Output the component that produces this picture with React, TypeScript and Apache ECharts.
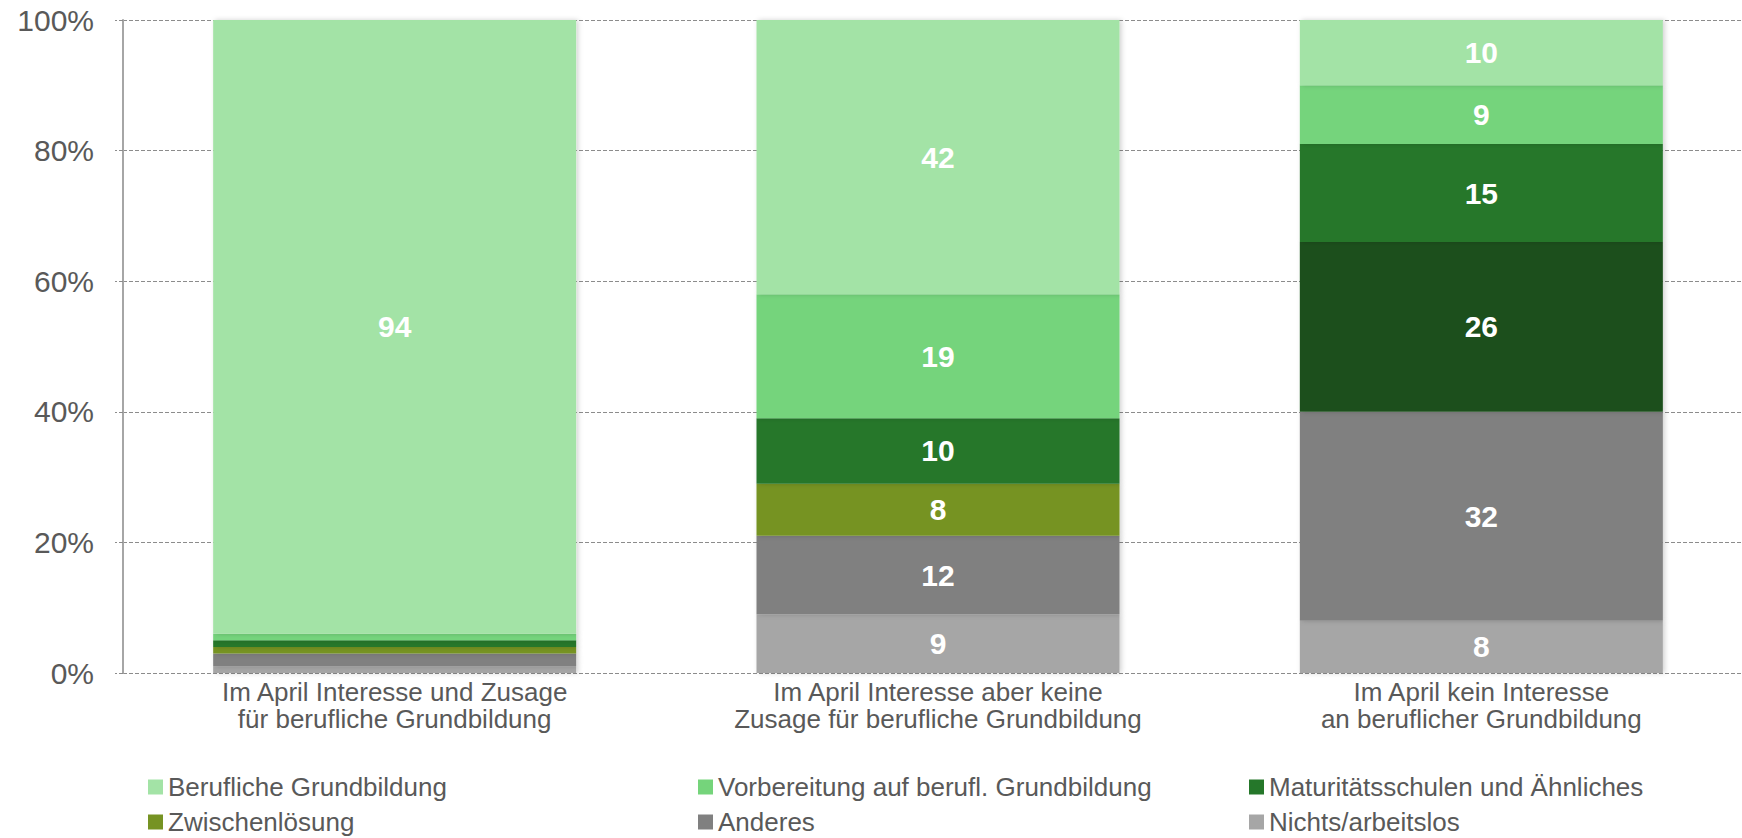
import React, { useEffect, useRef } from "react";
import * as echarts from "echarts";

const categories = [
  "Im April Interesse und Zusage\nfür berufliche Grundbildung",
  "Im April Interesse aber keine\nZusage für berufliche Grundbildung",
  "Im April kein Interesse\nan beruflicher Grundbildung",
];

const yTicks = [0, 20, 40, 60, 80, 100];

// stacked bottom to top
const nichts = [1, 9, 8];
const anderes = [2, 12, 32];
const zwischen = [1, 8, 0];
const weitere = [0, 0, 26];
const maturitaet = [1, 10, 15];
const vorbereitung = [1, 19, 9];
const beruflich = [94, 42, 10];

const seriesDefs = [
  { name: "Nichts/arbeitslos", data: nichts, color: "#a6a6a6" },
  { name: "Anderes", data: anderes, color: "#808080" },
  { name: "Zwischenlösung", data: zwischen, color: "#769323" },
  { name: "Weitere", data: weitere, color: "#1b4f1c" },
  { name: "Maturitätsschulen und Ähnliches", data: maturitaet, color: "#25772a" },
  { name: "Vorbereitung auf berufl. Grundbildung", data: vorbereitung, color: "#75d47b" },
  { name: "Berufliche Grundbildung", data: beruflich, color: "#a3e3a6" },
];

const FONT = "'Liberation Sans', Arial, Helvetica, sans-serif";
const TXT = "#595959";

// the plot area runs past the right page edge, as in the reference
const CHART_W = 1770;

export default function App() {
  const ref = useRef<HTMLDivElement>(null);

  useEffect(() => {
    if (!ref.current) return;
    const chart = echarts.init(ref.current, null, { renderer: "svg" });

    const legendBase = {
      orient: "vertical" as const,
      top: 774,
      height: 80,
      padding: 0,
      itemWidth: 15,
      itemHeight: 15,
      itemGap: 9,
      icon: "rect",
      selectedMode: false,
      textStyle: { fontFamily: FONT, fontSize: 26, color: TXT, lineHeight: 24 },
    };

    chart.setOption({
      animation: false,
      backgroundColor: "#ffffff",
      textStyle: { fontFamily: FONT },
      grid: { left: 123, top: 20, width: 1630, height: 653, containLabel: false },
      legend: [
        { ...legendBase, left: 148, data: ["Berufliche Grundbildung", "Zwischenlösung"] },
        { ...legendBase, left: 698, data: ["Vorbereitung auf berufl. Grundbildung", "Anderes"] },
        { ...legendBase, left: 1249, data: ["Maturitätsschulen und Ähnliches", "Nichts/arbeitslos"] },
      ],
      xAxis: {
        type: "category",
        data: categories,
        axisLine: { show: false },
        axisTick: { show: false },
        axisLabel: {
          margin: 5,
          fontFamily: FONT,
          fontSize: 26,
          lineHeight: 27,
          color: TXT,
          interval: 0,
        },
      },
      yAxis: {
        type: "value",
        min: 0,
        max: 100,
        interval: 20,
        axisLine: { show: true, lineStyle: { color: "#a6a6a6", width: 2 } },
        axisTick: { show: true, length: 8, lineStyle: { color: "#8c8c8c", type: [4, 2], width: 1 } },
        axisLabel: {
          margin: 29,
          fontFamily: FONT,
          fontSize: 30,
          color: TXT,
          formatter: (v: number) => (yTicks.includes(v) ? v + "%" : ""),
        },
        splitLine: { show: true, lineStyle: { color: "#8c8c8c", type: [4, 2], width: 1 } },
      },
      series: seriesDefs.map((s) => ({
        name: s.name,
        type: "bar",
        stack: "total",
        barWidth: 363,
        data: s.data,
        itemStyle: {
          color: s.color,
          shadowBlur: 5,
          shadowOffsetX: 2,
          shadowColor: "rgba(0,0,0,0.18)",
        },
        label: {
          show: true,
          position: "inside",
          fontFamily: FONT,
          fontWeight: "bold",
          fontSize: 30,
          color: "#ffffff",
          formatter: (p: any) => (p.value >= 5 ? String(p.value) : ""),
        },
      })),
    });

    return () => chart.dispose();
  }, []);

  return (
    <div
      ref={ref}
      style={{ position: "fixed", left: 0, top: 0, width: CHART_W, height: 838 }}
    />
  );
}
